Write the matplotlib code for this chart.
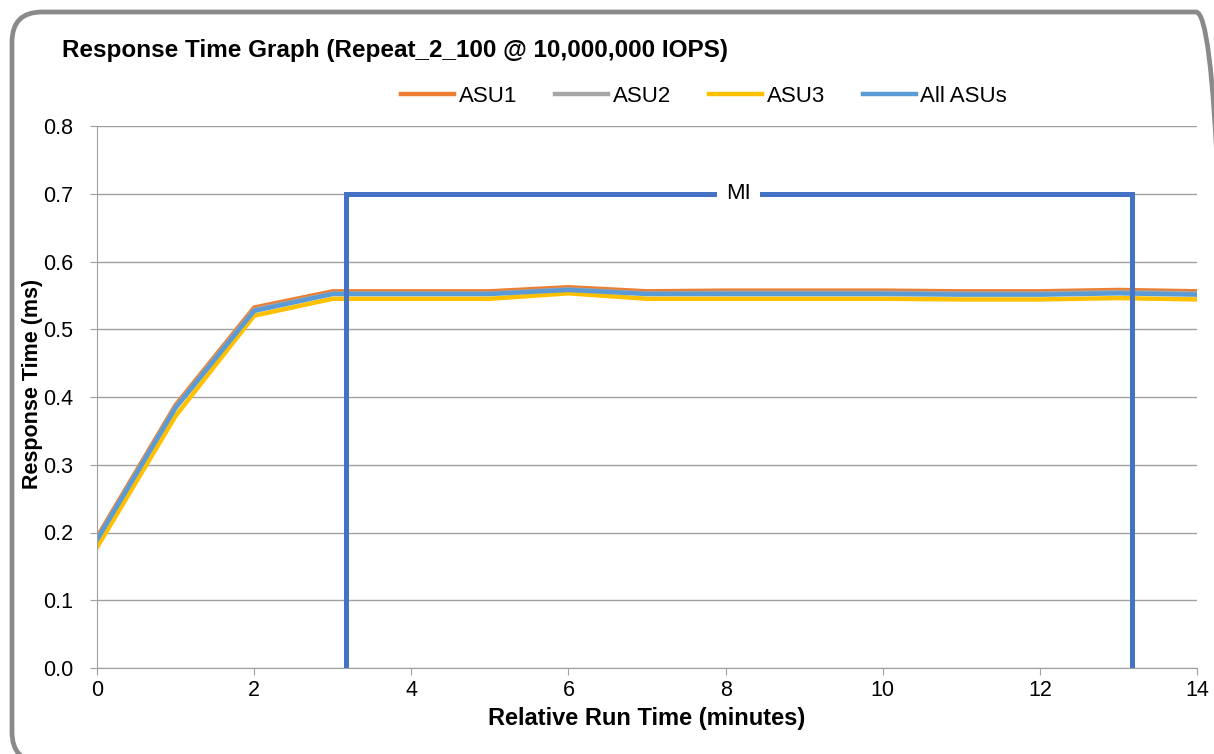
import matplotlib
matplotlib.use('Agg')
import matplotlib.pyplot as plt
from matplotlib.patches import FancyBboxPatch
from matplotlib.transforms import IdentityTransform

plt.rcParams['font.family'] = ['Liberation Sans', 'DejaVu Sans']

minutes = list(range(15))
asu1 = [0.193, 0.388, 0.532, 0.556, 0.556, 0.556, 0.562, 0.556, 0.557, 0.557, 0.557, 0.556, 0.556, 0.558, 0.556]
asu2 = [0.190, 0.385, 0.529, 0.553, 0.553, 0.553, 0.559, 0.553, 0.554, 0.554, 0.554, 0.553, 0.553, 0.555, 0.553]
asu3 = [0.178, 0.372, 0.520, 0.545, 0.545, 0.545, 0.553, 0.545, 0.545, 0.545, 0.545, 0.544, 0.544, 0.546, 0.544]
all_asus = [0.189, 0.384, 0.527, 0.552, 0.552, 0.552, 0.558, 0.552, 0.552, 0.552, 0.552, 0.551, 0.551, 0.553, 0.551]
mi_start, mi_end, mi_top = 3.17, 13.17, 0.7

W, H = 1214, 754
fig = plt.figure(figsize=(W / 100, H / 100), dpi=100)

# rounded frame in pixels, running off the right and bottom edges like the source
frame = FancyBboxPatch((12, -8), 1214, 750, boxstyle='round,pad=0,rounding_size=30',
                       transform=IdentityTransform(), facecolor='none', edgecolor='#8a8a8a',
                       linewidth=3.4, zorder=5)
fig.patches.append(frame)

ax = fig.add_axes([97 / W, 1 - 668 / H, 1100 / W, 542 / H])
ax.set_facecolor('none')

ax.plot(minutes, asu1, color='#ed7d31', lw=3.2, label='ASU1')
ax.plot(minutes, asu2, color='#a5a5a5', lw=3.2, label='ASU2')
ax.plot(minutes, asu3, color='#ffc000', lw=3.2, label='ASU3')
ax.plot(minutes, all_asus, color='#5b9bd5', lw=3.2, label='All ASUs')

ax.plot([mi_start, mi_start, mi_end, mi_end], [0, mi_top, mi_top, 0], color='#4472c4', lw=3.6,
        solid_joinstyle='miter')
ax.text((mi_start + mi_end) / 2, mi_top, 'MI', ha='center', va='center', fontsize=16,
        bbox=dict(facecolor='white', edgecolor='none', pad=6.5))

ax.set_xlim(0, 14)
ax.set_ylim(0, 0.8)
ax.set_xticks(range(0, 15, 2))
ax.set_yticks([i / 10 for i in range(9)])
ax.set_yticklabels(['%.1f' % (i / 10) for i in range(9)])
ax.grid(axis='y', color='#a0a0a0', lw=1)
ax.set_axisbelow(True)
for s in ['top', 'right']:
    ax.spines[s].set_visible(False)
ax.spines['left'].set_color('#a0a0a0')
ax.spines['bottom'].set_color('#a0a0a0')
ax.tick_params(axis='both', labelsize=15.5, length=5, color='#a0a0a0', direction='out')
ax.tick_params(axis='x', pad=4)
ax.tick_params(axis='y', pad=12)

ax.set_xlabel('Relative Run Time (minutes)', fontsize=17, fontweight='bold', labelpad=4)
ax.set_ylabel('Response Time (ms)', fontsize=15.5, fontweight='bold')
ax.yaxis.set_label_coords(-0.049, 0.524)

fig.text(62 / W, 1 - 50 / H, 'Response Time Graph (Repeat_2_100 @ 10,000,000 IOPS)',
         fontsize=17.5, fontweight='bold', va='center')

ax.legend(loc='center', bbox_to_anchor=(0.552, 1 + 30 / 542), ncol=4, frameon=False, fontsize=16,
          handlelength=2.4, columnspacing=1.7, handletextpad=0.2)

fig.savefig('out.png', dpi=100)
